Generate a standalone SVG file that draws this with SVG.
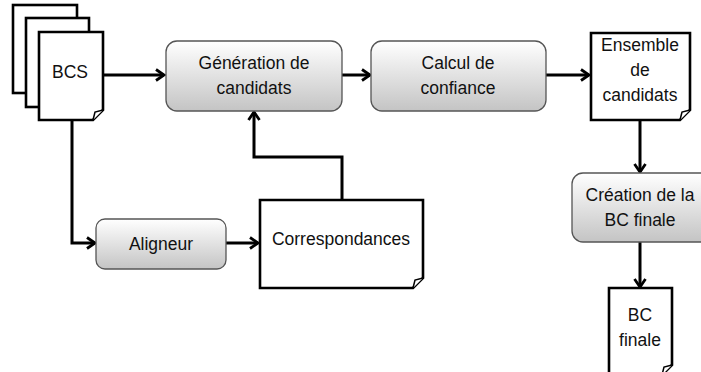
<svg xmlns="http://www.w3.org/2000/svg" width="701" height="372" viewBox="0 0 701 372">
<defs>
<linearGradient id="g" x1="0" y1="0" x2="0" y2="1">
<stop offset="0" stop-color="#ffffff"/>
<stop offset="1" stop-color="#c4c4c4"/>
</linearGradient>
<marker id="arr" markerWidth="14" markerHeight="14" viewBox="0 0 14 14" refX="11" refY="7" orient="auto" markerUnits="userSpaceOnUse">
<path d="M3,1.5 L11,7 L3,12.5" fill="none" stroke="#000" stroke-width="2.8"/>
</marker>
</defs>
<style>
.box{fill:url(#g);stroke:#555;stroke-width:1.3}
.doc{fill:#fff;stroke:#000;stroke-width:2.6}
.fold{fill:#fff;stroke:#000;stroke-width:1.5}
.ln{fill:none;stroke:#000;stroke-width:3}
text{font-family:"Liberation Sans",Arial,sans-serif;font-size:17.5px;fill:#111;text-anchor:middle}
</style>
<g id="connectors">
<path class="ln" d="M103,75 H164" marker-end="url(#arr)"/>
<path class="ln" d="M342,75 H370" marker-end="url(#arr)"/>
<path class="ln" d="M546,75 H589" marker-end="url(#arr)"/>
<path class="ln" d="M640,120 V172" marker-end="url(#arr)"/>
<path class="ln" d="M640,242 V287" marker-end="url(#arr)"/>
<path class="ln" d="M72,120 V243 H95" marker-end="url(#arr)"/>
<path class="ln" d="M226,243 H258" marker-end="url(#arr)"/>
<path class="ln" d="M342,200 V157 H254 V112" marker-end="url(#arr)"/>
</g>
<g id="bcs">
<rect class="doc" x="13" y="5" width="64" height="88"/>
<rect class="doc" x="26" y="18" width="63" height="89"/>
<path class="doc" d="M39,32 H103 V110 L93,120 H39 Z"/>
<path class="fold" d="M93,120 L95,112 L103,110"/>
<text x="70" y="78">BCS</text>
</g>
<g id="generation">
<rect class="box" x="166" y="41" width="176" height="70" rx="11"/>
<text x="254" y="69">Génération de</text>
<text x="254" y="94">candidats</text>
</g>
<g id="calcul">
<rect class="box" x="371" y="41" width="175" height="70" rx="11"/>
<text x="458" y="69">Calcul de</text>
<text x="458" y="94">confiance</text>
</g>
<g id="ensemble">
<path class="doc" d="M591,33 H690 V110 L680,120 H591 Z"/>
<path class="fold" d="M680,120 L682,112 L690,110"/>
<text x="640" y="51">Ensemble</text>
<text x="640" y="76">de</text>
<text x="640" y="101">candidats</text>
</g>
<g id="creation">
<rect class="box" x="572" y="173" width="140" height="69" rx="11"/>
<text x="640" y="201">Création de la</text>
<text x="640" y="226">BC finale</text>
</g>
<g id="bcfinale">
<path class="doc" d="M609,288 H672 V365 L662,375 H609 Z"/>
<path class="fold" d="M662,375 L664,367 L672,365"/>
<text x="640" y="321">BC</text>
<text x="640" y="346">finale</text>
</g>
<g id="aligneur">
<rect class="box" x="96" y="219" width="130" height="50" rx="9"/>
<text x="161" y="250">Aligneur</text>
</g>
<g id="correspondances">
<path class="doc" d="M260,200 H423 V278 L413,288 H260 Z"/>
<path class="fold" d="M413,288 L415,280 L423,278"/>
<text x="341" y="245">Correspondances</text>
</g>
</svg>
